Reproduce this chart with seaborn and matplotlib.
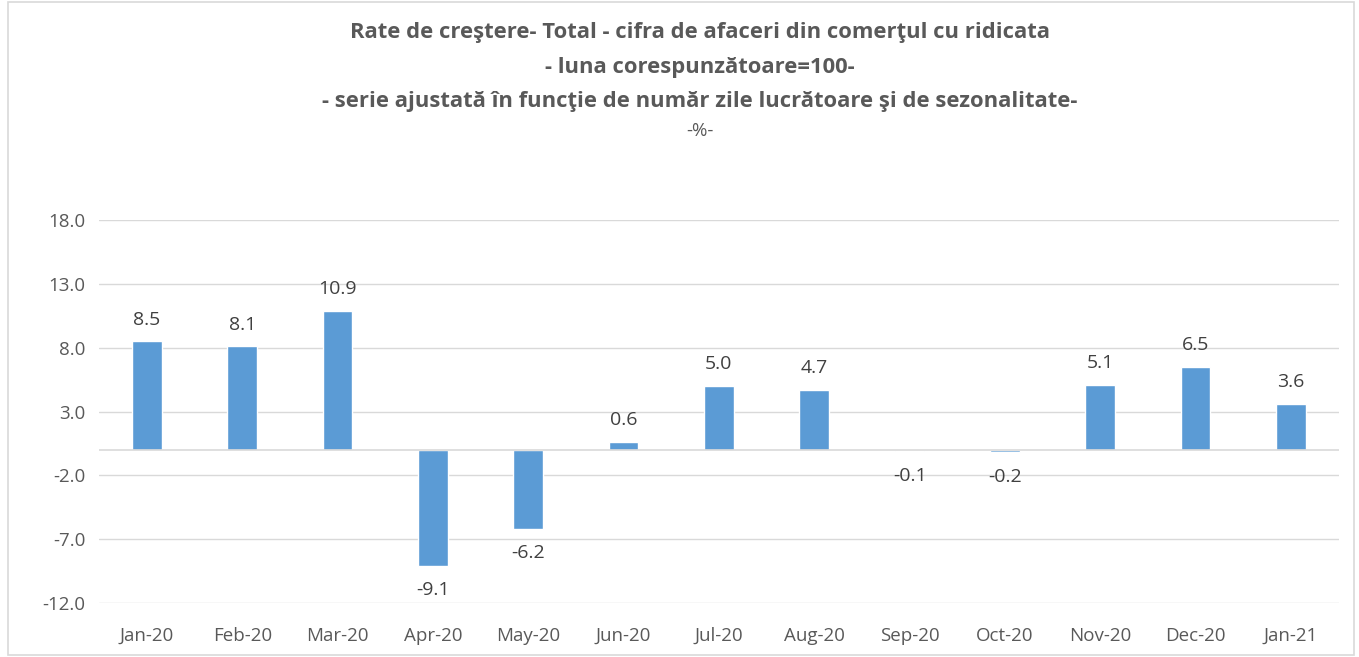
import seaborn as sns
import pandas as pd
import numpy as np
import matplotlib.pyplot as plt
from matplotlib.patches import Rectangle

luni = ["Jan-20", "Feb-20", "Mar-20", "Apr-20", "May-20", "Jun-20", "Jul-20",
        "Aug-20", "Sep-20", "Oct-20", "Nov-20", "Dec-20", "Jan-21"]
rate = [8.5, 8.1, 10.9, -9.1, -6.2, 0.6, 5.0, 4.7, -0.1, -0.2, 5.1, 6.5, 3.6]
y_ticks = [-12.0, -7.0, -2.0, 3.0, 8.0, 13.0, 18.0]

df = pd.DataFrame({"luna": luni, "rata": rate})

sns.set_style("white")
plt.rcParams['font.family'] = ['Open Sans', 'DejaVu Sans']

fig = plt.figure(figsize=(13.59, 6.57), dpi=100)
ax = fig.add_axes([0.073, 0.082, 0.912, 0.583])

sns.barplot(data=df, x="luna", y="rata", color="#5B9BD5", saturation=1,
            width=0.31, ax=ax)

ax.set_ylim(-12, 18)
ax.set_yticks(y_ticks)
ax.set_yticklabels([f"{v:.1f}" for v in y_ticks])
ax.yaxis.grid(True, color="#D9D9D9", linewidth=1)
ax.set_axisbelow(True)
ax.axhline(0, color="#D9D9D9", linewidth=1.2, zorder=1)
for s in ax.spines.values():
    s.set_visible(False)
ax.tick_params(axis="both", length=0, labelsize=13.5, labelcolor="#595959")
ax.tick_params(axis="y", pad=10)
ax.tick_params(axis="x", pad=17)
ax.set_xlabel("")
ax.set_ylabel("")

# etichete valori
for bar, v in zip(ax.patches, rate):
    x = bar.get_x() + bar.get_width() / 2
    if v >= 0:
        ax.text(x, v + 1.0, f"{v:.1f}", ha="center", va="bottom",
                fontsize=14, color="#404040")
    else:
        ax.text(x, v - 1.2, f"{v:.1f}", ha="center", va="top",
                fontsize=14, color="#404040")

titlu = ["Rate de creştere- Total - cifra de afaceri din comerţul cu ridicata",
         "- luna corespunzătoare=100-",
         "- serie ajustată în funcţie de număr zile lucrătoare şi de sezonalitate-"]
y0 = 0.950
for i, t in enumerate(titlu):
    fig.text(0.515, y0 - i * 0.052, t, ha="center", va="center",
             fontsize=15.8, fontweight="bold", color="#595959")
fig.text(0.515, y0 - 3 * 0.050, "-%-", ha="center", va="center",
         fontsize=13.5, color="#595959")

fig.patches.append(Rectangle((0.006, 0.003), 0.99, 0.994, transform=fig.transFigure,
                             fill=False, edgecolor="#D9D9D9", linewidth=1.2))

fig.savefig("out.png", dpi=100)
